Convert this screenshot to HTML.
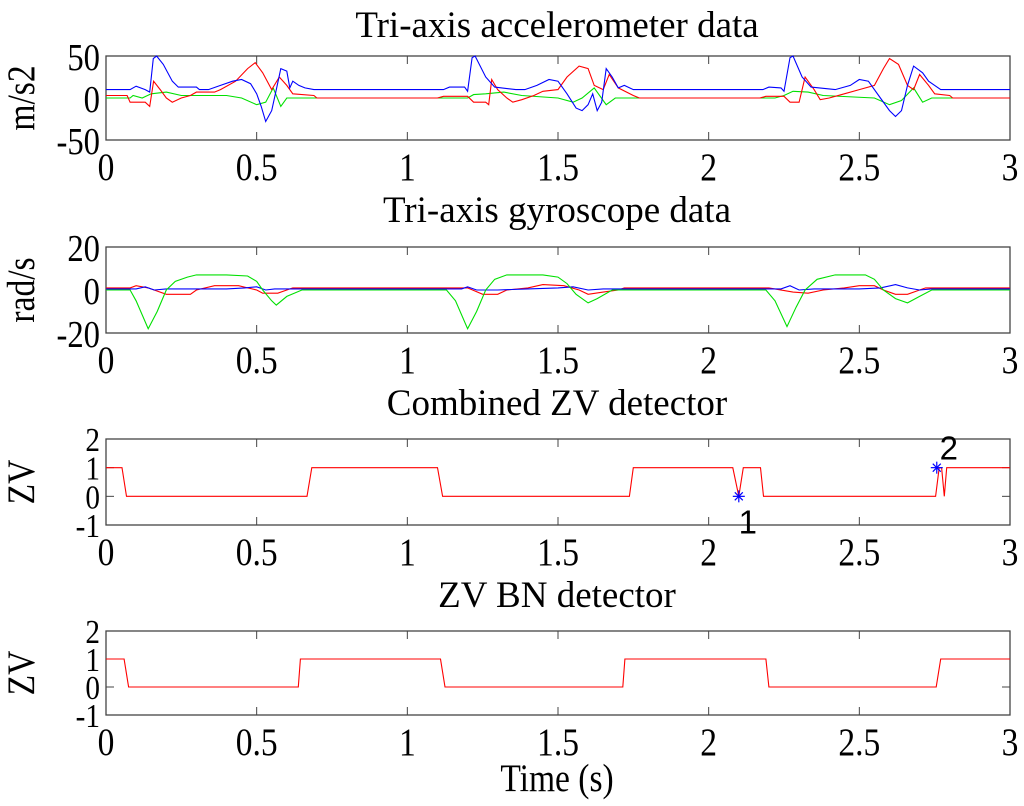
<!DOCTYPE html>
<html><head><meta charset="utf-8"><style>
html,body{margin:0;padding:0;background:#fff;}
svg{display:block;font-family:"Liberation Serif",serif;}
</style></head><body>
<svg id="chart" width="1024" height="806" viewBox="0 0 1024 806" xmlns="http://www.w3.org/2000/svg"></svg>
<script>
const xTicks=[0,0.5,1,1.5,2,2.5,3];
const xTickLabels=["0","0.5","1","1.5","2","2.5","3"];
const accTicks=[-50,0,50];
const gyrTicks=[-20,0,20];
const zvTicks=[-1,0,1,2];
const accBlue=[[0,10],[0.08,10],[0.1,14],[0.13,10],[0.145,7],[0.157,47],[0.168,50],[0.19,40],[0.22,20],[0.24,13],[0.3,13],[0.31,10],[0.34,10],[0.38,15],[0.42,20],[0.45,22],[0.48,17],[0.5,5],[0.515,-10],[0.53,-28],[0.55,-15],[0.565,10],[0.58,35],[0.6,32],[0.61,12],[0.62,20],[0.64,15],[0.66,12],[0.69,10],[1.12,10],[1.14,13],[1.19,13],[1.2,8],[1.215,48],[1.225,50],[1.26,25],[1.29,13],[1.36,10],[1.39,10],[1.43,15],[1.47,22],[1.5,20],[1.53,5],[1.56,-12],[1.58,-15],[1.6,-8],[1.615,5],[1.63,-15],[1.645,-5],[1.66,35],[1.68,25],[1.7,12],[1.72,15],[1.75,10],[2.18,10],[2.2,13],[2.24,12],[2.25,8],[2.27,48],[2.28,50],[2.31,25],[2.34,13],[2.42,10],[2.47,15],[2.5,22],[2.53,20],[2.57,0],[2.6,-15],[2.62,-22],[2.64,-15],[2.66,15],[2.68,38],[2.71,30],[2.73,20],[2.75,15],[2.77,10],[3,10]];
const accRed=[[0,3],[0.07,3],[0.08,-5],[0.13,-5],[0.145,-10],[0.158,20],[0.18,10],[0.2,0],[0.22,-5],[0.25,0],[0.28,3],[0.3,7],[0.36,7],[0.38,10],[0.43,20],[0.47,35],[0.495,42],[0.52,30],[0.55,10],[0.575,25],[0.6,15],[0.62,5],[0.69,3],[0.7,0],[1.1,0],[1.12,2],[1.2,2],[1.22,-5],[1.26,-5],[1.27,-8],[1.28,22],[1.3,10],[1.33,0],[1.35,-5],[1.38,-2],[1.42,3],[1.45,8],[1.5,10],[1.53,25],[1.57,38],[1.6,35],[1.62,15],[1.65,10],[1.67,28],[1.7,12],[1.75,3],[1.77,0],[2.17,0],[2.19,2],[2.25,2],[2.27,-5],[2.3,-5],[2.32,25],[2.35,10],[2.37,-2],[2.4,0],[2.45,5],[2.5,10],[2.55,15],[2.58,35],[2.6,47],[2.63,40],[2.66,15],[2.68,10],[2.7,28],[2.73,15],[2.75,5],[2.8,3],[2.81,0],[3,0]];
const accGreen=[[0,0],[0.08,0],[0.09,3],[0.12,0],[0.15,5],[0.2,7],[0.25,3],[0.4,3],[0.45,0],[0.5,-8],[0.53,-5],[0.555,12],[0.58,-10],[0.6,0],[0.63,0],[1.2,0],[1.22,4],[1.26,5],[1.32,7],[1.38,3],[1.5,0],[1.55,-5],[1.58,0],[1.62,12],[1.66,-8],[1.69,0],[2.22,0],[2.25,3],[2.28,8],[2.33,7],[2.38,3],[2.55,0],[2.6,-8],[2.64,-3],[2.68,12],[2.71,-5],[2.74,0],[3,0]];
const gyrGreen=[[0,0],[0.08,0],[0.1,-5],[0.14,-18],[0.17,-10],[0.2,0],[0.23,4],[0.27,6],[0.3,7],[0.4,7],[0.47,6.5],[0.5,4],[0.52,0],[0.55,-5],[0.565,-7],[0.6,-3],[0.65,0],[1.13,0],[1.16,-5],[1.2,-18],[1.23,-10],[1.26,0],[1.29,5],[1.33,7],[1.45,7],[1.5,6],[1.53,3],[1.56,-2],[1.6,-6],[1.63,-4],[1.68,0],[2.19,0],[2.22,-5],[2.26,-17],[2.29,-8],[2.32,0],[2.36,5],[2.42,7],[2.52,7],[2.55,5],[2.58,0],[2.62,-4],[2.66,-6],[2.7,-3],[2.74,0],[3,0]];
const gyrRed=[[0,1],[0.08,1],[0.1,2],[0.14,1],[0.2,-2],[0.28,-2],[0.3,0],[0.36,2],[0.44,2],[0.47,1],[0.5,0],[0.52,-1.5],[0.57,-1.5],[0.6,0],[0.62,1],[1.15,1],[1.2,1],[1.25,-2],[1.3,-2],[1.33,0],[1.4,1],[1.45,2.5],[1.52,2],[1.57,0],[1.6,-2],[1.65,-1],[1.7,0],[1.72,1],[2.2,1],[2.28,-1],[2.33,-1.5],[2.38,0],[2.45,1],[2.5,2],[2.55,2],[2.58,0],[2.62,-2],[2.66,-2],[2.7,0],[2.72,1],[3,1]];
const gyrBlue=[[0,0.5],[0.1,0.5],[0.13,1.5],[0.16,0],[0.2,0.5],[0.4,0.5],[0.46,1],[0.5,1.5],[0.53,0],[0.56,0.5],[0.8,0.5],[1.18,0.5],[1.2,1.5],[1.23,0],[1.3,0],[1.4,0.5],[1.5,1],[1.55,1.5],[1.6,0],[1.65,0.5],[2.24,0.5],[2.27,2],[2.3,0],[2.35,0.5],[2.5,0.5],[2.57,1],[2.62,2.5],[2.66,1],[2.7,0],[2.74,0.5],[3,0.5]];
const zvComb=[[0,1],[0.053,1],[0.068,0],[0.667,0],[0.683,1],[1.1,1],[1.117,0],[1.737,0],[1.75,1],[2.08,1],[2.1,0],[2.115,1],[2.172,1],[2.182,0],[2.753,0],[2.765,1],[2.773,1],[2.782,0],[2.79,1],[3,1]];
const zvMarkT=[2.1,2.757];
const zvMarkV=[0,1];
const zvMarkLabels=["1","2"];
const zvBN=[[0,1],[0.06,1],[0.075,0],[0.638,0],[0.645,1],[1.11,1],[1.125,0],[1.715,0],[1.722,1],[2.19,1],[2.2,0],[2.755,0],[2.77,1],[3,1]];

const NS="http://www.w3.org/2000/svg";
const svg=document.getElementById('chart');
function mk(tag,attrs,parent){const e=document.createElementNS(NS,tag);for(const k in attrs)e.setAttribute(k,attrs[k]);(parent||svg).appendChild(e);return e;}
function txt(parent,x,y,size,anchor,sxs,rot){
  let tr=`translate(${x},${y})`+(rot?` rotate(${rot})`:'')+` scale(${sxs},1)`;
  return mk('text',{x:0,y:0,'font-size':size,'text-anchor':anchor,fill:'#000',transform:tr},parent);
}
const X0=106,X1=1010;
function sx(t){return X0+(t/3)*(X1-X0);}
function makeAxis(top,bot,ymin,ymax,yTicks,ylab,title,titleY,name,yFont,yOff){
  const g=mk('g',{});
  
  
  const sy=v=>bot-(v-ymin)/(ymax-ymin)*(bot-top);
  mk('rect',{x:X0,y:top,width:X1-X0,height:bot-top,fill:'#fff',stroke:'#444','stroke-width':1.3},g);
  xTicks.forEach((t,i)=>{
    const x=sx(t);
    mk('line',{x1:x,y1:bot,x2:x,y2:bot-8,stroke:'#444','stroke-width':1},g);
    mk('line',{x1:x,y1:top,x2:x,y2:top+8,stroke:'#444','stroke-width':1},g);
    const tx=txt(g,x,bot+40,39,'middle',0.86);
    
    
    tx.textContent=xTickLabels[i];
  });
  yTicks.forEach(v=>{
    const y=sy(v);
    mk('line',{x1:X0,y1:y,x2:X0+8,y2:y,stroke:'#444','stroke-width':1},g);
    mk('line',{x1:X1,y1:y,x2:X1-8,y2:y,stroke:'#444','stroke-width':1},g);
    const tx=txt(g,X0-6,y+yOff,yFont,'end',0.86);
    
    
    tx.textContent=String(v);
  });
  const yl=txt(g,34,(top+bot)/2,39,'middle',0.86,-90);
  
  
  yl.textContent=ylab;
  const tt=txt(g,557,titleY,37,'middle',1);
  
  
  tt.textContent=title;
  return {g,sy};
}
function line(ax,data,color,name){
  const d=data.map((p,i)=>(i?'L':'M')+sx(p[0]).toFixed(1)+','+ax.sy(p[1]).toFixed(1)).join('');
  const p=mk('path',{d:d,fill:'none',stroke:color,'stroke-width':1.1},ax.g);
  
  
}
const a1=makeAxis(56,140,-50,50,accTicks,'m/s2','Tri-axis accelerometer data',37,'accelerometer-plot',38,14);
line(a1,accGreen,'#00e000','acc-green-series');
line(a1,accRed,'#ff0000','acc-red-series');
line(a1,accBlue,'#0000ff','acc-blue-series');
const a2=makeAxis(247,333,-20,20,gyrTicks,'rad/s','Tri-axis gyroscope data',222,'gyroscope-plot',38,14);
line(a2,gyrRed,'#ff0000','gyr-red-series');
line(a2,gyrBlue,'#0000ff','gyr-blue-series');
line(a2,gyrGreen,'#00e000','gyr-green-series');
const a3=makeAxis(439,525,-1,2,zvTicks,'ZV','Combined ZV detector',415,'combined-zv-plot',34,12);
line(a3,zvComb,'#ff0000','combined-zv-series');
zvMarkT.forEach((t,i)=>{
  const x=sx(t),y=a3.sy(zvMarkV[i]);
  const m=mk('g',{stroke:'#0000ff','stroke-width':1.2},a3.g);
  
  
  mk('line',{x1:x-6,y1:y,x2:x+6,y2:y},m);
  mk('line',{x1:x,y1:y-6,x2:x,y2:y+6},m);
  mk('line',{x1:x-4,y1:y-4,x2:x+4,y2:y+4},m);
  mk('line',{x1:x-4,y1:y+4,x2:x+4,y2:y-4},m);
  const lt=mk('text',{x:i===0?x+9:x+12,y:i===0?y+37:y-8,'font-size':33,'font-family':'Liberation Sans, sans-serif','text-anchor':'middle',fill:'#000'},a3.g);
  
  
  lt.textContent=zvMarkLabels[i];
});
const a4=makeAxis(631,715,-1,2,zvTicks,'ZV','ZV BN detector',607,'zv-bn-plot',34,12);
line(a4,zvBN,'#ff0000','zv-bn-series');
const xl=txt(svg,557,791,39,'middle',0.86);


xl.textContent='Time (s)';
</script>
</body></html>
